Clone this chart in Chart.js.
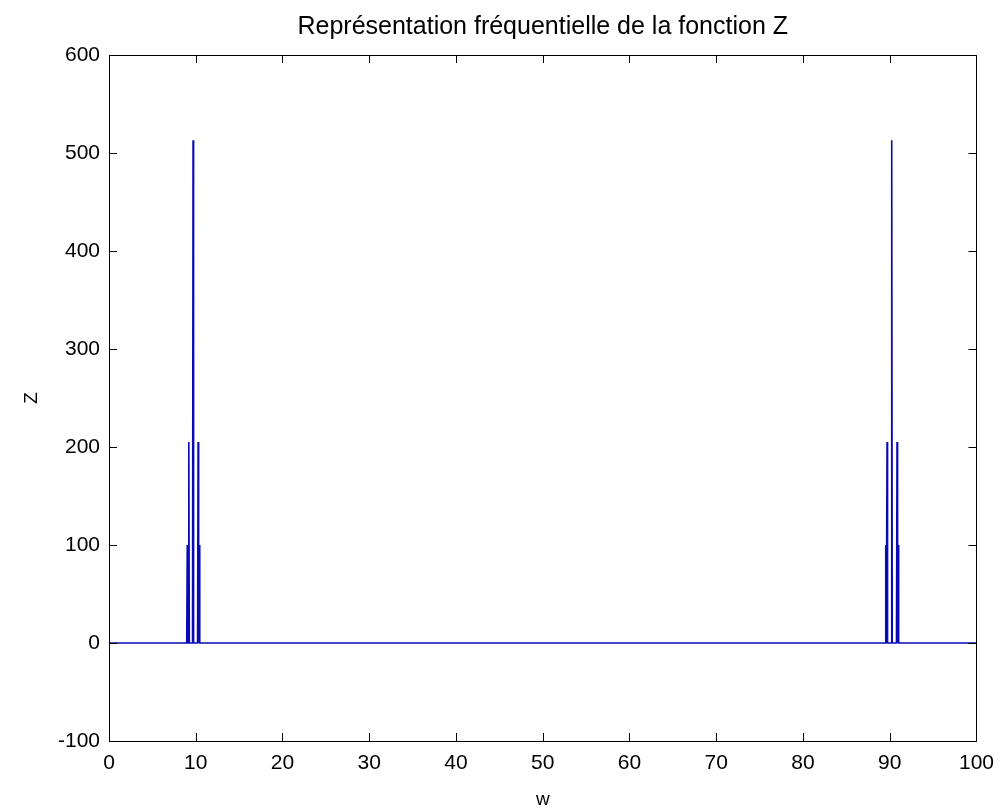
<!DOCTYPE html>
<html>
<head>
<meta charset="utf-8">
<script src="https://cdn.jsdelivr.net/npm/chart.js@4/dist/chart.umd.min.js"></script>
<style>
  body { margin: 0; background: #ffffff; }
  canvas { display: block; }
</style>
</head>
<body>
<canvas id="zChart" width="1004" height="812"></canvas>
<script>
// Données
const wValues = [0, 8.96, 9.02, 9.08, 9.14, 9.20, 9.26, 9.63, 9.69, 9.75, 10.21, 10.27, 10.33, 10.34, 10.40, 10.46,
                 89.48, 89.54, 89.60, 89.63, 89.69, 89.75, 90.17, 90.23, 90.29, 90.78, 90.84, 90.90, 90.91, 90.97, 91.03, 100];
const zValues = [0, 0, 100, 0, 0, 205, 0, 0, 513, 0, 0, 205, 0, 0, 100, 0,
                 0, 100, 0, 0, 205, 0, 0, 513, 0, 0, 205, 0, 0, 100, 0, 0];
const xTicks = [0, 10, 20, 30, 40, 50, 60, 70, 80, 90, 100];
const yTicks = [-100, 0, 100, 200, 300, 400, 500, 600];

const points = wValues.map((w, i) => ({ x: w, y: zValues[i] }));
const fontFamily = "'Liberation Sans', Arial, sans-serif";

// Cadre et graduations vers l'intérieur (style MATLAB)
const boxTicks = {
    id: 'boxTicks',
    afterDraw(chart) {
        const ctx = chart.ctx;
        const a = chart.chartArea;
        const xs = chart.scales.x;
        const ys = chart.scales.y;
        const len = 8;
        ctx.save();
        ctx.strokeStyle = '#000000';
        ctx.lineWidth = 1;
        ctx.beginPath();
        xTicks.forEach(v => {
            const px = Math.round(xs.getPixelForValue(v)) + 0.5;
            ctx.moveTo(px, a.bottom);
            ctx.lineTo(px, a.bottom - len);
            ctx.moveTo(px, a.top);
            ctx.lineTo(px, a.top + len);
        });
        yTicks.forEach(v => {
            const py = Math.round(ys.getPixelForValue(v)) + 0.5;
            ctx.moveTo(a.left, py);
            ctx.lineTo(a.left + len, py);
            ctx.moveTo(a.right, py);
            ctx.lineTo(a.right - len, py);
        });
        ctx.stroke();
        ctx.strokeRect(Math.round(a.left) + 0.5, Math.round(a.top) + 0.5,
                       Math.round(a.right - a.left), Math.round(a.bottom - a.top));
        ctx.restore();
    }
};

const ctx = document.getElementById('zChart').getContext('2d');
const zChart = new Chart(ctx, {
    type: 'line',
    data: {
        datasets: [{
            data: points,
            borderColor: '#0a0ab4',
            borderWidth: 1.6,
            pointRadius: 0,
            tension: 0,
            fill: false
        }]
    },
    options: {
        responsive: false,
        animation: false,
        layout: {
            padding: { left: 0, right: 25, top: 0, bottom: 0 }
        },
        plugins: {
            legend: { display: false },
            tooltip: { enabled: false },
            title: {
                display: true,
                fullSize: false,
                text: 'Représentation fréquentielle de la fonction Z',
                color: '#000000',
                font: { family: fontFamily, size: 25, weight: 'normal' },
                padding: { top: 12, bottom: 13 }
            }
        },
        scales: {
            x: {
                type: 'linear',
                min: 0,
                max: 100,
                afterFit: scale => { scale.height = 71; },
                afterBuildTicks: scale => { scale.ticks = xTicks.map(v => ({ value: v })); },
                grid: { display: false, drawTicks: false },
                border: { display: false },
                ticks: {
                    color: '#000000',
                    padding: 10,
                    maxRotation: 0,
                    font: { family: fontFamily, size: 21 }
                },
                title: {
                    display: true,
                    text: 'w',
                    color: '#000000',
                    font: { family: fontFamily, size: 19 },
                    padding: { top: 0, bottom: 1 }
                }
            },
            y: {
                type: 'linear',
                min: -100,
                max: 600,
                afterFit: scale => { scale.width = 109; },
                afterBuildTicks: scale => { scale.ticks = yTicks.map(v => ({ value: v })); },
                grid: { display: false, drawTicks: false },
                border: { display: false },
                ticks: {
                    color: '#000000',
                    padding: 9,
                    font: { family: fontFamily, size: 21 }
                },
                title: {
                    display: true,
                    text: 'Z',
                    color: '#000000',
                    font: { family: fontFamily, size: 19 },
                    padding: { top: 20, bottom: 0 }
                }
            }
        }
    },
    plugins: [boxTicks]
});
</script>
</body>
</html>
